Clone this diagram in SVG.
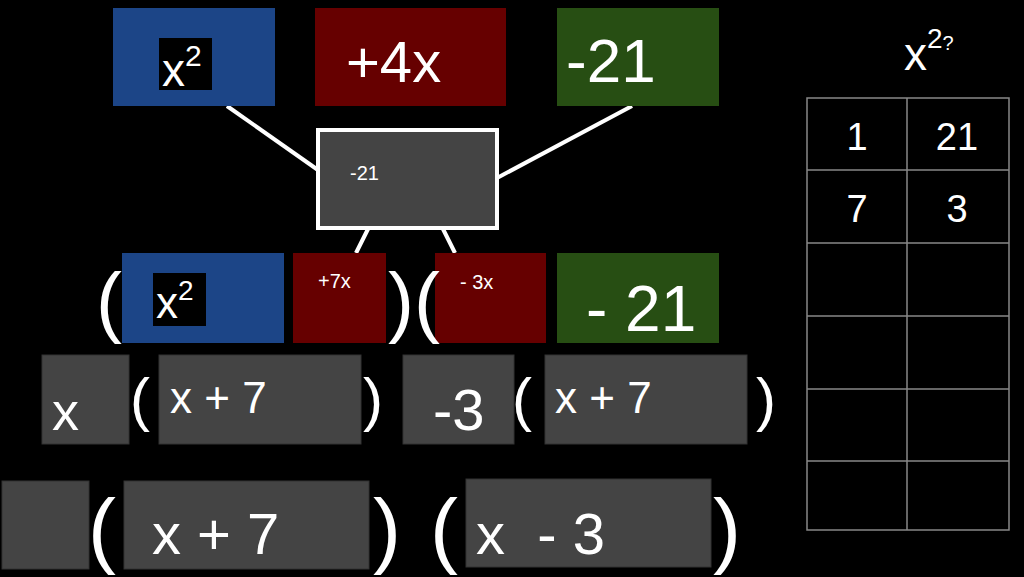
<svg xmlns="http://www.w3.org/2000/svg" width="1024" height="577" viewBox="0 0 1024 577">
<style>
text{font-family:"Liberation Sans",Arial,sans-serif;fill:#fff}
.g{fill:#444;stroke:#333;stroke-width:1}
.t{stroke:#888;stroke-width:1.5;fill:none}
</style>
<rect width="1024" height="577" fill="#000"/>
<g id="connectors" stroke="#fff" stroke-width="4">
<line x1="227" y1="106" x2="318" y2="170"/>
<line x1="632" y1="106" x2="497" y2="178"/>
<line x1="368" y1="229" x2="356" y2="253"/>
<line x1="443" y1="229" x2="455" y2="253"/>
</g>
<g id="top-x2"><rect x="113" y="8" width="162" height="98" fill="#1c4587"/><rect x="159" y="38" width="53" height="52" fill="#000"/><text x="162" y="86" font-size="46">x<tspan dy="-20" font-size="30">2</tspan></text></g>
<g id="top-4x"><rect x="315" y="8" width="191" height="98" fill="#660000"/><text x="346" y="82" font-size="58">+4x</text></g>
<g id="top-21"><rect x="557" y="8" width="162" height="98" fill="#274e13"/><text x="566" y="82" font-size="62">-21</text></g>
<g id="center"><rect x="318" y="130" width="179" height="98" fill="#444" stroke="#fff" stroke-width="4"/><text x="350" y="180" font-size="20">-21</text></g>
<g id="row2-x2"><rect x="122" y="253" width="162" height="90" fill="#1c4587"/><rect x="153" y="273" width="53" height="53" fill="#000"/><text x="156" y="318" font-size="44">x<tspan dy="-18" font-size="28">2</tspan></text></g>
<g id="row2-7x"><rect x="293" y="253" width="93" height="90" fill="#660000"/><text x="318" y="288" font-size="20">+7x</text></g>
<g id="row2-3x"><rect x="435" y="253" width="111" height="90" fill="#660000"/><text x="460" y="289" font-size="20" xml:space="preserve">- 3x</text></g>
<g id="row2-21"><rect x="557" y="253" width="162" height="90" fill="#274e13"/><text x="586" y="331" font-size="64">- 21</text></g>
<text x="96" y="328" font-size="78" font-weight="300">(</text>
<text x="388" y="328" font-size="78" font-weight="300">)(</text>
<g id="row3">
<rect class="g" x="42" y="355" width="87" height="89"/><text x="52" y="430" font-size="54">x</text>
<rect class="g" x="159" y="355" width="202" height="89"/><text x="170" y="413" font-size="44">x + 7</text>
<rect class="g" x="403" y="355" width="111" height="89"/><text x="433" y="430" font-size="58">-3</text>
<rect class="g" x="545" y="355" width="202" height="89"/><text x="555" y="413" font-size="44">x + 7</text>
<text x="130" y="420" font-size="60">(</text><text x="363" y="420" font-size="60">)</text>
<text x="512" y="420" font-size="60">(</text><text x="756" y="420" font-size="60">)</text>
</g>
<g id="row4">
<rect class="g" x="2" y="481" width="87" height="88"/>
<rect class="g" x="124" y="481" width="245" height="88"/><text x="152" y="554" font-size="58">x + 7</text>
<rect class="g" x="466" y="479" width="245" height="88"/><text x="476" y="554" font-size="58" xml:space="preserve">x  - 3</text>
<text x="88" y="558" font-size="84" font-weight="300">(</text><text x="373" y="558" font-size="84" font-weight="300">)</text>
<text x="430" y="558" font-size="84" font-weight="300">(</text><text x="713" y="558" font-size="84" font-weight="300">)</text>
</g>
<g id="table">
<text x="904" y="70" font-size="46">x<tspan dy="-22" font-size="28">2</tspan><tspan dy="2" font-size="20">?</tspan></text>
<rect class="t" x="807" y="98" width="202" height="432"/>
<line class="t" x1="907" y1="98" x2="907" y2="530"/>
<line class="t" x1="807" y1="170" x2="1009" y2="170"/>
<line class="t" x1="807" y1="243" x2="1009" y2="243"/>
<line class="t" x1="807" y1="316" x2="1009" y2="316"/>
<line class="t" x1="807" y1="389" x2="1009" y2="389"/>
<line class="t" x1="807" y1="461" x2="1009" y2="461"/>
<text x="857" y="150" font-size="38" text-anchor="middle">1</text>
<text x="957" y="150" font-size="38" text-anchor="middle">21</text>
<text x="857" y="222" font-size="38" text-anchor="middle">7</text>
<text x="957" y="222" font-size="38" text-anchor="middle">3</text>
</g>
</svg>
